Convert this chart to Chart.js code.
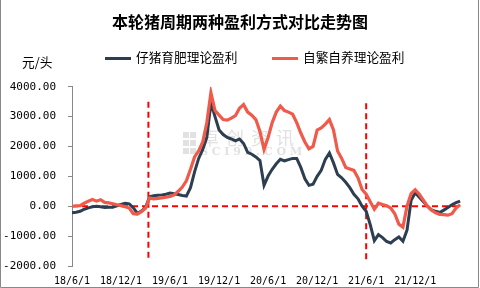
<!DOCTYPE html>
<html>
<head>
<meta charset="utf-8">
<script src="https://cdn.jsdelivr.net/npm/chart.js@4.4.0/dist/chart.umd.min.js"></script>
<style>
  html, body { margin: 0; padding: 0; background: #fff; }
  #wrap { width: 480px; height: 288px; position: relative; }
</style>
</head>
<body>
<div id="wrap"><canvas id="chart" width="480" height="288"></canvas></div>
<script>
// months since 18/6/1, data read every half month
var tickMonths = [0, 6, 12, 18, 24, 30, 36, 42];
var tickLabels = ['18/6/1', '18/12/1', '19/6/1', '19/12/1', '20/6/1', '20/12/1', '21/6/1', '21/12/1'];
var seriesNames = ['仔猪育肥理论盈利', '自繁自养理论盈利'];
var cycleMarks = [9.35, 36.0];

// 仔猪育肥
var pigletProfit = [
  -220, -200, -170, -100, -55, -20, 0, -20, -40, -30,
  -30, 20, 60, 100, 80, -50, -240, -160, -40, 320,
  350, 370, 380, 400, 440, 420, 390, 360, 340, 620,
  1150, 1600, 1900, 2300, 3450, 3000, 2550, 2400, 2300, 2250,
  2190, 2250, 2100, 1800, 1740, 1650, 1530, 700, 1010, 1235,
  1420, 1570, 1520, 1560, 1600, 1600, 1300, 920, 700, 740,
  1000, 1200, 1570, 1780, 1450, 1065, 950, 800, 620, 400,
  250, 0, -170, -620, -1150, -950, -1050, -1180, -1230, -1120,
  -1030, -1170, -800, 200, 450, 300, 150, 0, -120, -170,
  -210, -130, -40, 50, 120, 170
];
// 自繁自养
var breedingProfit = [
  0, 10, 20, 100, 170, 225, 170, 220, 130, 110,
  85, 50, 20, -20, -60, -250, -260, -180, -70, 280,
  250, 260, 280, 300, 330, 380, 500, 640, 850, 1235,
  1650, 1850, 2150, 2800, 3800, 3200, 3050, 2900, 2880, 2950,
  3030, 3280, 3400, 3150, 3050, 2900, 2500, 1900, 2300, 2800,
  3150, 3350, 3200, 3150, 3080, 2800, 2450, 2150, 1920, 2000,
  2550, 2620, 2750, 2900, 2550, 1850, 1600, 1300, 1250, 1200,
  950, 560, 400, 150, -100, 100, 55, 20, -60, -250,
  -600, -700, 0, 420, 550, 400, 200, 0, -130, -220,
  -270, -280, -300, -250, -60, 50
];

var dataEnd = 47.6;
var axisEnd = 49.93;
var darkColor = '#2c3e50';
var redColor = '#f05a4a';

function toPoints(arr) {
  return arr.map(function (v, i) { return { x: i * 0.5, y: v }; });
}

var dashStyle = { borderColor: '#ff0000', borderWidth: 2, borderDash: [6, 4], pointRadius: 0, order: 3, fill: false };

var extras = {
  id: 'extras',
  beforeDatasetsDraw: function (chart) {
    var ctx = chart.ctx;
    ctx.save();
    // watermark
    ctx.fillStyle = 'rgba(180,180,180,0.4)';
    ctx.fillRect(183, 132, 6, 6);
    ctx.fillRect(190, 132, 6, 6);
    ctx.fillRect(183, 140, 6, 6);
    ctx.fillRect(190, 140, 6, 6);
    ctx.fillRect(183, 148, 6, 6);
    ctx.fillRect(190, 148, 6, 6);
    ctx.font = '18px "Noto Sans CJK SC"';
    ctx.textBaseline = 'middle';
    var wm = '卓创资讯';
    for (var i = 0; i < wm.length; i++) ctx.fillText(wm[i], 201 + i * 25, 138);
    ctx.font = 'bold 11px "DejaVu Serif"';
    ctx.fillText('S C I 9 9 . C O M', 200, 152);
    ctx.restore();
  },
  afterDraw: function (chart) {
    var ctx = chart.ctx;
    ctx.save();
    // legend
    var items = [
      { x: 105, color: darkColor, text: seriesNames[0] },
      { x: 272, color: redColor, text: seriesNames[1] }
    ];
    ctx.font = '12.7px "Noto Sans CJK SC"';
    ctx.textBaseline = 'middle';
    items.forEach(function (it) {
      ctx.strokeStyle = it.color;
      ctx.lineWidth = 3;
      ctx.beginPath();
      ctx.moveTo(it.x, 58.5);
      ctx.lineTo(it.x + 26, 58.5);
      ctx.stroke();
      ctx.fillStyle = '#000';
      ctx.fillText(it.text, it.x + 31, 57.5);
    });
    // unit
    ctx.fillText('元/头', 22, 62);
    // frame
    ctx.strokeStyle = '#888';
    ctx.lineWidth = 1;
    ctx.beginPath();
    ctx.moveTo(0.5, 0);
    ctx.lineTo(0.5, 287.5);
    ctx.lineTo(478.5, 287.5);
    ctx.lineTo(478.5, 0);
    ctx.stroke();
    ctx.restore();
  }
};

var ctx = document.getElementById('chart').getContext('2d');
window.myChart = new Chart(ctx, {
  type: 'line',
  data: {
    datasets: [
      { label: seriesNames[0], data: toPoints(pigletProfit), borderColor: darkColor, borderWidth: 3, pointRadius: 0, order: 2 },
      { label: seriesNames[1], data: toPoints(breedingProfit), borderColor: redColor, borderWidth: 3.2, pointRadius: 0, order: 1 },
      Object.assign({ data: [{ x: 0, y: 0 }, { x: dataEnd, y: 0 }] }, dashStyle),
      Object.assign({ data: [{ x: cycleMarks[0], y: 3500 }, { x: cycleMarks[0], y: -1800 }] }, dashStyle),
      Object.assign({ data: [{ x: cycleMarks[1], y: 3450 }, { x: cycleMarks[1], y: -1850 }] }, dashStyle)
    ]
  },
  options: {
    responsive: false,
    animation: false,
    layout: { padding: { left: 0, right: 0, top: 0, bottom: 0 } },
    plugins: {
      legend: { display: false },
      tooltip: { enabled: false },
      title: {
        display: true,
        text: '本轮猪周期两种盈利方式对比走势图',
        color: '#000',
        font: { family: 'Noto Sans CJK SC', size: 16, weight: 'bold' },
        padding: { top: 12, bottom: 55.5 }
      }
    },
    scales: {
      x: {
        type: 'linear',
        min: 0,
        max: axisEnd,
        border: { display: false },
        grid: { display: false, drawTicks: false },
        afterBuildTicks: function (scale) {
          scale.ticks = tickMonths.map(function (m) { return { value: m }; });
        },
        afterFit: function (scale) { scale.height = 22; },
        ticks: {
          autoSkip: false,
          maxRotation: 0,
          padding: 9,
          color: '#000',
          font: { family: 'DejaVu Sans Mono', size: 10 },
          callback: function (v) {
            var k = tickMonths.indexOf(v);
            return k >= 0 ? tickLabels[k] : '';
          }
        }
      },
      y: {
        min: -2000,
        max: 4000,
        border: { display: true, color: '#888' },
        grid: { drawOnChartArea: false, drawTicks: true, tickLength: 4, color: '#888' },
        afterFit: function (scale) { scale.width = 72; },
        ticks: {
          stepSize: 1000,
          padding: 12,
          color: '#000',
          font: { family: 'DejaVu Sans Mono', size: 11 },
          callback: function (v) { return v.toFixed(2); }
        }
      }
    }
  },
  plugins: [extras]
});
</script>
</body>
</html>
